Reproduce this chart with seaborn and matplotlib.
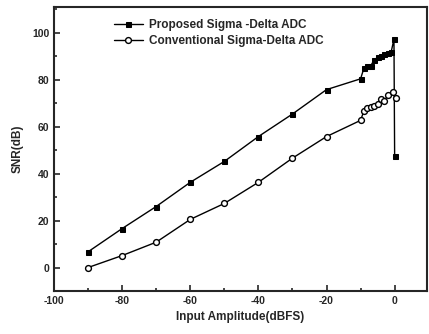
import numpy as np
import pandas as pd
import seaborn as sns
import matplotlib.pyplot as plt
from matplotlib.ticker import MultipleLocator

# values
x_prop = [-90, -80, -70, -60, -50, -40, -30, -20, -10, -9, -8, -7, -6, -5, -4, -3, -2, -1, -0.2, 0]
snr_prop = [6.7, 16.6, 26, 36.3, 45.2, 55.8, 65.4, 75.8, 80.4, 85, 86, 86, 88.5, 89.5, 90, 91, 91.5, 92, 97.3, 47.5]

x_conv = [-90, -80, -70, -60, -50, -40, -30, -20, -10, -9, -8, -7, -6, -5, -4, -3, -2, -0.5, 0.3]
snr_conv = [0, 5.1, 10.8, 20.5, 27.3, 36.3, 46.6, 55.8, 62.7, 66.8, 68, 68.4, 69, 69.8, 72, 70.8, 73.6, 74.6, 72.2]

labels = ["Proposed Sigma -Delta ADC", "Conventional Sigma-Delta ADC"]

sns.set_style("ticks")
plt.rcParams['font.family'] = ['Liberation Sans', 'DejaVu Sans']
plt.rcParams['font.weight'] = 'bold'
plt.rcParams['axes.unicode_minus'] = False

df_prop = pd.DataFrame({"x": x_prop, "snr": snr_prop})
df_conv = pd.DataFrame({"x": x_conv, "snr": snr_conv})

fig, ax = plt.subplots(figsize=(4.29, 3.34), dpi=100)
fig.subplots_adjust(left=54/429, right=427/429, bottom=1-291/334, top=1-7/334)

sns.lineplot(data=df_prop, x="x", y="snr", sort=False, estimator=None, ax=ax,
             color="black", lw=1.0, marker="s", markersize=3.6,
             markerfacecolor="black", markeredgecolor="black", label=labels[0])
sns.lineplot(data=df_conv, x="x", y="snr", sort=False, estimator=None, ax=ax,
             color="black", lw=1.0, marker="o", markersize=4.2,
             markerfacecolor="white", markeredgecolor="black", markeredgewidth=1.0,
             label=labels[1])

ax.set_xlim(-100, 9.5)
ax.set_ylim(-10, 111)
ax.xaxis.set_major_locator(MultipleLocator(20))
ax.xaxis.set_minor_locator(MultipleLocator(10))
ax.yaxis.set_major_locator(MultipleLocator(20))
ax.yaxis.set_minor_locator(MultipleLocator(10))
ax.tick_params(which="both", direction="in", labelsize=7.5, width=1.2)
ax.tick_params(which="major", length=4)
ax.tick_params(which="minor", length=2)
for lab in ax.get_xticklabels() + ax.get_yticklabels():
    lab.set_fontweight("bold")
for sp in ax.spines.values():
    sp.set_linewidth(1.5)

ax.set_xlabel("Input Amplitude(dBFS)", fontsize=8.5, fontweight="bold", labelpad=4)
ax.set_ylabel("SNR(dB)", fontsize=8.5, fontweight="bold", labelpad=6)

ax.legend(loc="upper left", bbox_to_anchor=(0.13, 1.0), frameon=False,
          prop={"size": 8.5, "weight": "bold"}, handlelength=2.4,
          handletextpad=0.5, labelspacing=0.35, borderaxespad=0.6)

fig.savefig("out.png", dpi=100)
